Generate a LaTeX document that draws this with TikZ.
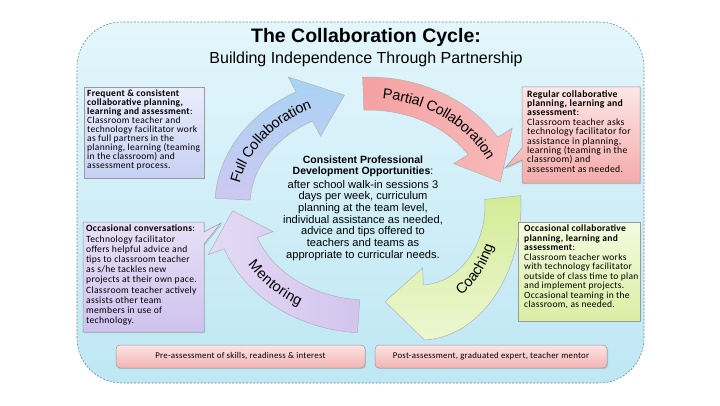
\documentclass[tikz,border=0pt]{standalone}
\usepackage{fontspec}
\setmainfont{Liberation Sans}
\newfontfamily\carlfont[LetterSpace=3]{Carlito}
\usetikzlibrary{decorations.text,shadows}

\definecolor{bgtop}{HTML}{E3F6FC}
\definecolor{bgbot}{HTML}{BEE7F4}
\definecolor{bgline}{HTML}{6A8FA0}
\definecolor{fullA}{HTML}{A8D3F4}
\definecolor{fullB}{HTML}{CDC8F1}
\definecolor{partA}{HTML}{F4A1A1}
\definecolor{partB}{HTML}{F8BBBB}
\definecolor{coachA}{HTML}{D2EC96}
\definecolor{coachB}{HTML}{EDF7D2}
\definecolor{mentA}{HTML}{E4DAF5}
\definecolor{mentB}{HTML}{D3C4ED}
\definecolor{tlA}{HTML}{E9EDFB}
\definecolor{tlB}{HTML}{C8D1F3}
\definecolor{trA}{HTML}{FDE6E6}
\definecolor{trB}{HTML}{F4ABAB}
\definecolor{blA}{HTML}{E6E0F6}
\definecolor{blB}{HTML}{CFC3EE}
\definecolor{brA}{HTML}{F5FAE0}
\definecolor{brB}{HTML}{DAEEA4}
\definecolor{barA}{HTML}{FCE4E4}
\definecolor{barB}{HTML}{F3B3B3}

\newcommand{\arrowlabfont}{\fontsize{14.5}{14.5}\selectfont}
\newcommand{\cycarrow}[4]{%
  \path[#1] (#2:153pt and 128pt)
    arc[start angle=#2, end angle=#3, x radius=153pt, y radius=128pt]
    -- (#3:170pt and 145pt) -- (#4:135.5pt and 111.5pt) -- (#3:101pt and 78pt)
    -- (#3:118pt and 95pt)
    arc[start angle=#3, end angle=#2, x radius=118pt, y radius=95pt] -- cycle;}
\newcommand{\cyclabel}[3]{%
  \path[decorate, decoration={text along path, text align=center, raise=-4.5pt,
    text={|\arrowlabfont|#3}}]
    (#1:135.5pt and 111.5pt) arc[start angle=#1, end angle=#2, x radius=135.5pt, y radius=111.5pt];}

\tikzset{
  arrowline/.style={draw=black!30, line width=0.5pt},
  boxline/.style={draw=black!40, line width=0.5pt,
    drop shadow={shadow xshift=1.2pt, shadow yshift=-1.2pt, opacity=0.25}},
  boxtext/.style={anchor=north west, inner sep=0pt, align=left},
  ctb/.style={anchor=base, inner sep=0pt, font=\bfseries\fontsize{10.5}{11}\selectfont},
  ctr/.style={anchor=base, inner sep=0pt, font=\fontsize{11.1}{12}\selectfont},
  bar/.style={boxline, rounded corners=4pt, top color=barA, bottom color=barB,
    minimum height=23pt, inner sep=0pt, font=\carlfont\fontsize{8.8}{10}\selectfont}
}

\begin{document}
\begin{tikzpicture}[x=1pt,y=1pt]
\useasboundingbox (0,0) rectangle (720,405);
\fill[white] (0,0) rectangle (720,405);
\path[top color=bgtop, bottom color=bgbot, draw=bgline, dash pattern=on 2pt off 1.5pt,
  line width=0.6pt, rounded corners=45pt] (77,22) rectangle (644,383);

\node[anchor=base, inner sep=0pt, font=\bfseries\fontsize{19.5}{20}\selectfont] (title) at (366,362) {The Collaboration Cycle:};
\node[anchor=base, inner sep=0pt, font=\fontsize{16}{17}\selectfont] (subtitle) at (366,341) {Building Independence Through Partnership};

\begin{scope}[shift={(368,200)}]
  \cycarrow{arrowline, top color=fullA, bottom color=fullB}{177}{118}{100}
  \cycarrow{arrowline, left color=partA, right color=partB}{92}{32}{12}
  \cycarrow{arrowline, left color=mentA, right color=mentB}{266}{200}{183}
  \cyclabel{172}{112}{Full Collaboration}
  \cyclabel{86}{22}{Partial Collaboration}
  \cyclabel{200}{250}{Mentoring}
\end{scope}

% coaching arrow (own, lower curve)
\begin{scope}[shift={(421,200)}]
  \path[arrowline, top color=coachA, bottom color=coachB]
    (4:100pt and 135pt) arc[start angle=4, end angle=-88, x radius=100pt, y radius=135pt]
    -- (-116:82pt and 107.5pt) -- (-88:47pt and 63pt) -- (-88:64pt and 80pt)
    arc[start angle=-88, end angle=4, x radius=64pt, y radius=80pt] -- cycle;
  \path[decorate, decoration={text along path, text align=center, raise=3pt,
    text={|\arrowlabfont|Coaching}}]
    (-70:82pt and 107.5pt) arc[start angle=-70, end angle=-14, x radius=82pt, y radius=107.5pt];
\end{scope}

\node[ctb] (c1) at (363,241) {Consistent Professional};
\node[ctb] (c2) at (363,230.5) {Development Opportunities\textmd{:}};
\node[ctr] (c3) at (363,217) {after school walk-in sessions 3};
\node[ctr] (c4) at (363,205.3) {days per week, curriculum};
\node[ctr] (c5) at (363,193.6) {planning at the team level,};
\node[ctr] (c6) at (363,181.9) {individual assistance as needed,};
\node[ctr] (c7) at (363,170.2) {advice and tips offered to};
\node[ctr] (c8) at (363,158.5) {teachers and teams as};
\node[ctr] (c9) at (363,146.8) {appropriate to curricular needs.};

% top-left box
\path[boxline, top color=tlA, bottom color=tlB] (84,227) rectangle (204,318);
\node[boxtext, font=\carlfont\fontsize{9.5}{9.0}\selectfont] (tltext) at (87,315) {%
\textbf{Frequent \& consistent}\\
\textbf{collaborative planning,}\\
\textbf{learning and assessment}:\\
Classroom teacher and\\
technology facilitator work\\
as full partners in the\\
planning, learning (teaming\\
in the classroom) and\\
assessment process.};

% top-right box
\path[boxline, top color=trA, bottom color=trB] (522,318) -- (640,318) -- (640,222) -- (522,222)
  -- (522,245) -- (505,237) -- (522,257) -- cycle;
\node[boxtext, font=\carlfont\fontsize{9.7}{9.4}\selectfont] (trtext) at (527,315) {%
\textbf{Regular collaborative}\\
\textbf{planning, learning and}\\
\textbf{assessment}:\\
Classroom teacher asks\\
technology facilitator for\\
assistance in planning,\\
learning (teaming in the\\
classroom) and\\
assessment as needed.};

% bottom-left box
\path[boxline, top color=blA, bottom color=blB] (83,183) -- (204,183) -- (204,173) -- (221,182)
  -- (204,161) -- (204,73) -- (83,73) -- cycle;
\node[boxtext, font=\carlfont\fontsize{9.6}{10.2}\selectfont] (bltext) at (86,180) {%
\textbf{Occasional conversations}:\\
Technology facilitator\\
offers helpful advice and\\
tips to classroom teacher\\
as s/he tackles new\\
projects at their own pace.\\
Classroom teacher actively\\
assists other team\\
members in use of\\
technology.};

% bottom-right box
\path[boxline, top color=brA, bottom color=brB] (518,84) rectangle (640,183);
\node[boxtext, font=\carlfont\fontsize{9.5}{9.5}\selectfont] (brtext) at (524,180) {%
\textbf{Occasional collaborative}\\
\textbf{planning, learning and}\\
\textbf{assessment}:\\
Classroom teacher works\\
with technology facilitator\\
outside of class time to plan\\
and implement projects.\\
Occasional teaming in the\\
classroom, as needed.};

% bottom bars
\node[bar, minimum width=249pt] (pre) at (240.5,48.5) {Pre-assessment of skills, readiness \& interest};
\node[bar, minimum width=232pt] (post) at (491,48.5) {Post-assessment, graduated expert, teacher mentor};
\end{tikzpicture}
\end{document}
